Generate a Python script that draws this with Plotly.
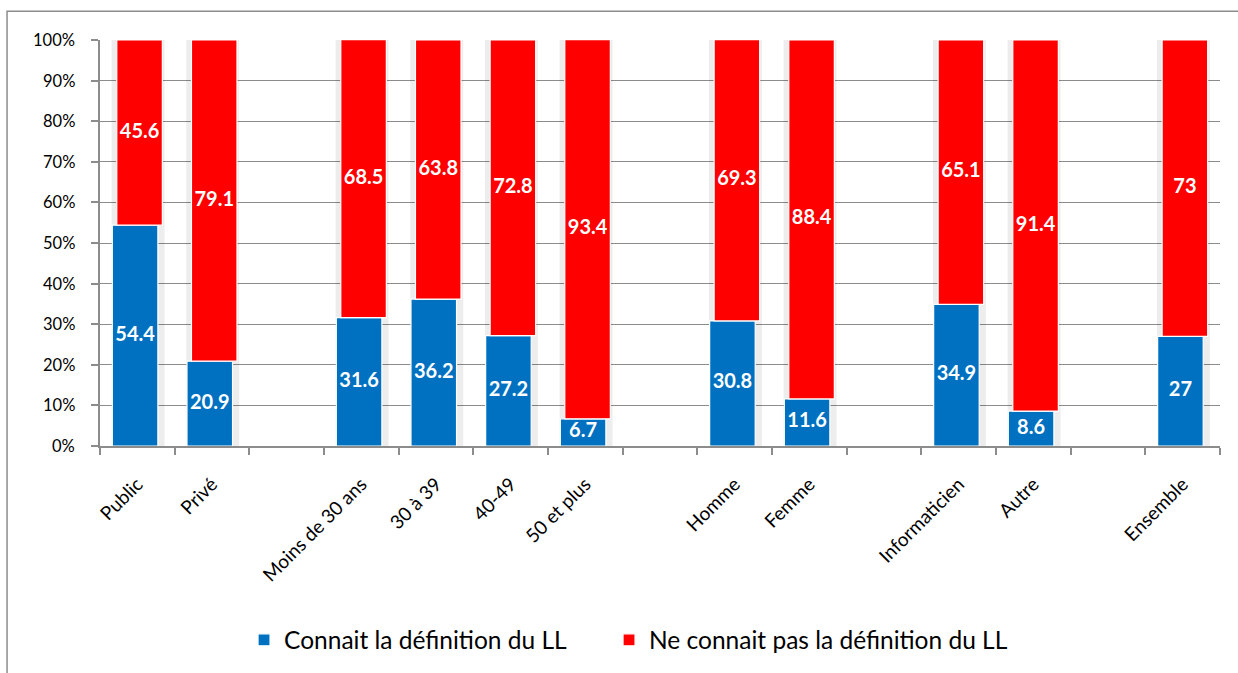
import plotly.graph_objects as go

# Survey groups: each inner list is drawn as a cluster, clusters separated by an empty slot
groups = [
    ["Public", "Privé"],
    ["Moins de 30 ans", "30 à 39", "40-49", "50 et plus"],
    ["Homme", "Femme"],
    ["Informaticien", "Autre"],
    ["Ensemble"],
]
connait = [54.4, 20.9, 31.6, 36.2, 27.2, 6.7, 30.8, 11.6, 34.9, 8.6, 27]
ne_connait_pas = [45.6, 79.1, 68.5, 63.8, 72.8, 93.4, 69.3, 88.4, 65.1, 91.4, 73]
y_ticks = [0, 10, 20, 30, 40, 50, 60, 70, 80, 90, 100]

# slot index of each category (one blank slot between clusters)
categories, xpos = [], []
slot = 0
for gi, g in enumerate(groups):
    for name in g:
        categories.append(name)
        xpos.append(slot)
        slot += 1
    if gi < len(groups) - 1:
        slot += 1
n_slots = slot
boundaries = [i - 0.5 for i in range(n_slots + 1)]

BLUE = "#0070C0"
RED = "#FF0000"
AXIS = "#8c8c8c"
FONT = "Lato, Carlito, Calibri, sans-serif"
bar_w = 0.61
shift = 0.03          # blue segment sits slightly left, red slightly right
tops = [a + b for a, b in zip(connait, ne_connait_pas)]

fig = go.Figure()

# soft shadow behind each stacked column
fig.add_trace(go.Bar(
    x=xpos, y=tops, base=[0] * len(tops),
    width=bar_w + 0.1, offset=-(bar_w + 0.1) / 2 + 0.01,
    marker=dict(color="rgba(0,0,0,0.07)", line=dict(width=0)),
    showlegend=False, hoverinfo="skip",
))
fig.add_trace(go.Bar(
    x=xpos, y=connait, base=[0] * len(connait),
    width=bar_w, offset=-bar_w / 2 - shift,
    marker=dict(color=BLUE, line=dict(color="white", width=1.2)),
    name="Connait la définition du LL", legend="legend",
))
fig.add_trace(go.Bar(
    x=xpos, y=ne_connait_pas, base=connait,
    width=bar_w, offset=-bar_w / 2 + shift,
    marker=dict(color=RED, line=dict(color="white", width=1.2)),
    name="Ne connait pas la définition du LL", legend="legend2",
))

# value labels centred in each segment
label_font = dict(color="white", size=20, family=FONT, weight="bold")
fig.add_trace(go.Scatter(
    x=[x - shift for x in xpos], y=[v / 2 for v in connait],
    mode="text", text=[f"{v:g}" for v in connait],
    textfont=label_font, showlegend=False, hoverinfo="skip",
))
fig.add_trace(go.Scatter(
    x=[x + shift for x in xpos], y=[a + b / 2 for a, b in zip(connait, ne_connait_pas)],
    mode="text", text=[f"{v:g}" for v in ne_connait_pas],
    textfont=label_font, showlegend=False, hoverinfo="skip",
))

legend_style = dict(
    orientation="h", xanchor="left", y=-0.474, yanchor="middle",
    font=dict(size=24.5, family=FONT), itemwidth=30,
    bgcolor="rgba(0,0,0,0)",
)

# percentage labels for the value axis, set a little away from the tick marks
y_labels = [dict(
    x=-0.0205, xref="paper", xanchor="right",
    y=v, yref="y", yanchor="middle",
    text=f"{v}%", showarrow=False,
    font=dict(size=16.5, family=FONT, color="#000000"),
) for v in y_ticks]

fig.update_layout(
    width=1238, height=673,
    margin=dict(l=100, r=18, t=40, b=226),
    barmode="overlay",
    plot_bgcolor="white", paper_bgcolor="white",
    font=dict(family=FONT, color="#000000"),
    legend=dict(x=0.1286, **legend_style),
    legend2=dict(x=0.4545, **legend_style),
    xaxis=dict(
        range=[-0.5, n_slots - 0.5],
        tickmode="array", tickvals=xpos, ticktext=categories,
        tickangle=-45, ticks="", showgrid=False, zeroline=False,
        showline=True, linecolor=AXIS, linewidth=1.5,
        tickfont=dict(size=19, family=FONT),
        ticklabelstandoff=18,
        minor=dict(tickmode="array", tickvals=boundaries, ticks="outside",
                   ticklen=7, tickcolor=AXIS, tickwidth=1.5, showgrid=False),
    ),
    yaxis=dict(
        range=[0, 100], tickmode="array", tickvals=y_ticks,
        showticklabels=False,
        showgrid=True, gridcolor=AXIS, gridwidth=1.2, zeroline=False,
        showline=True, linecolor=AXIS, linewidth=1.5,
        ticks="outside", ticklen=7, tickcolor=AXIS, tickwidth=1.5,
    ),
    annotations=y_labels,
    shapes=[dict(
        type="rect", xref="paper", yref="paper",
        x0=-0.083, x1=1.2, y0=-0.6, y1=1.071,
        line=dict(color=AXIS, width=1.5), fillcolor="rgba(0,0,0,0)",
        layer="below",
    )],
)

fig.write_html("out.html")
